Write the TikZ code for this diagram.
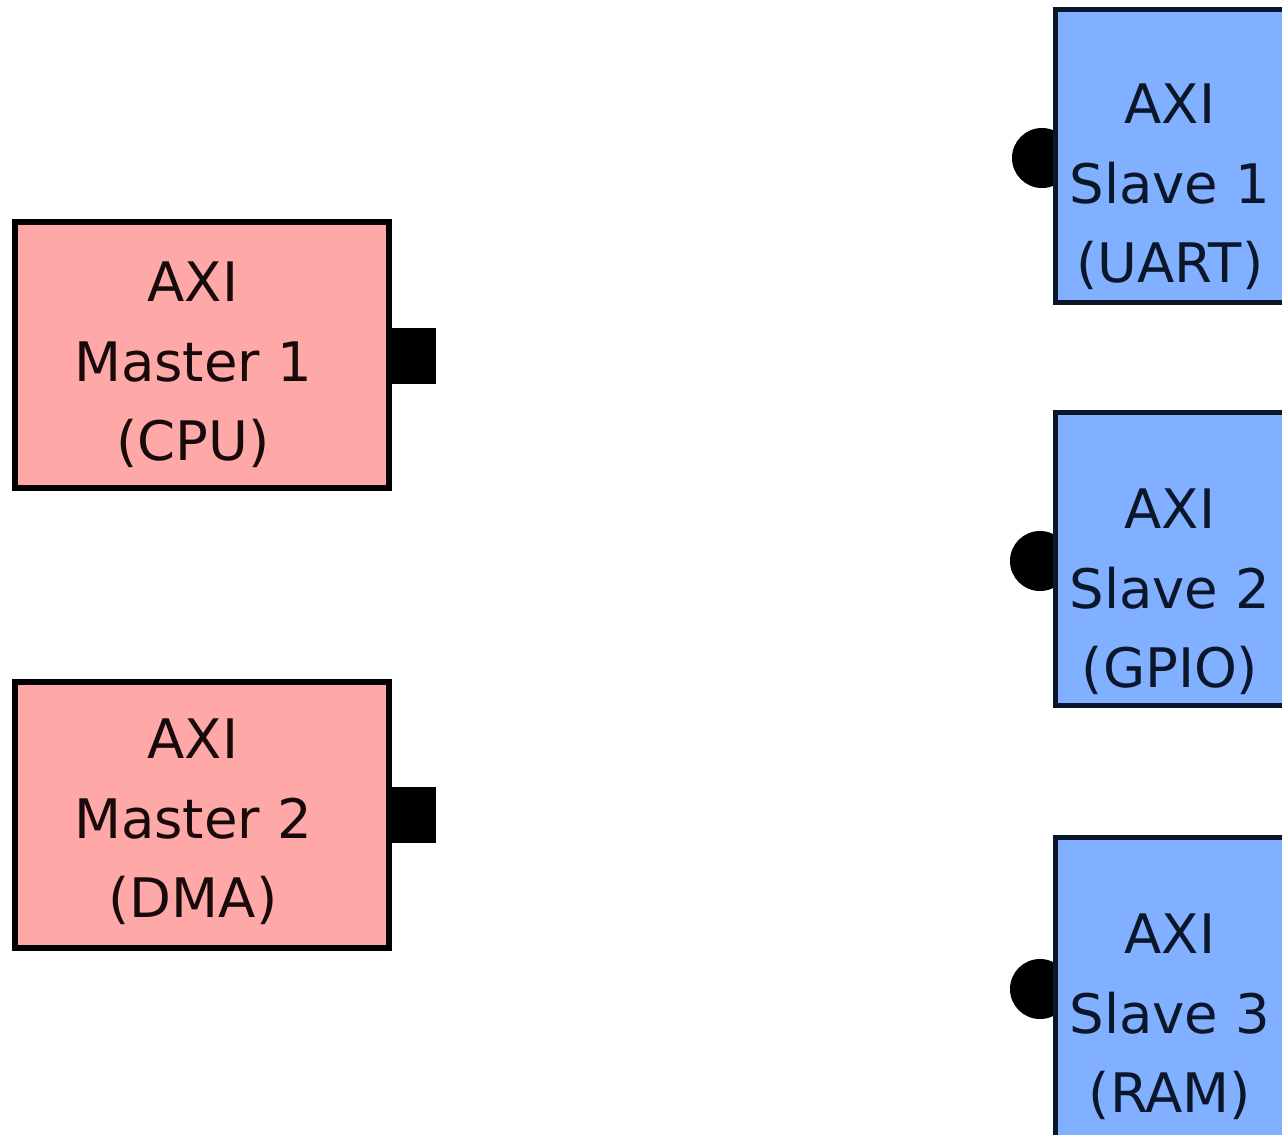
\documentclass[tikz,border=0pt]{standalone}
\usepackage{fontspec}
\setmainfont{DejaVu Sans}
\usetikzlibrary{positioning}
\newcommand{\pxsize}{0.02cm}
\definecolor{masterpink}{RGB}{255,168,168}
\definecolor{slaveblue}{RGB}{128,176,255}
\definecolor{slaveline}{RGB}{12,22,42}
\definecolor{mastertext}{RGB}{24,10,10}

\begin{document}
\begin{tikzpicture}
\useasboundingbox (0,0) rectangle (1282*\pxsize,-1134*\pxsize);
\clip (0,0) rectangle (1282*\pxsize,-1134*\pxsize);
\tikzstyle{masterbox}=[draw=black,
			fill=masterpink,
			line width=6*\pxsize,
			minimum width=374*\pxsize,
			minimum height=266*\pxsize,
			inner sep=0pt
			]
\tikzstyle{slavebox}=[draw=slaveline,
			fill=slaveblue,
			line width=5*\pxsize,
			minimum width=235*\pxsize,
			minimum height=293*\pxsize,
			inner sep=0pt
			]
\tikzstyle{masterport}=[fill=black,
			minimum width=44*\pxsize,
			minimum height=56*\pxsize,
			inner sep=0pt,
			anchor=west
			]
\tikzstyle{slaveport}=[circle,
			fill=black,
			minimum size=60*\pxsize,
			inner sep=0pt
			]
\tikzstyle{boxtext}=[align=center,
			anchor=north,
			inner sep=0pt,
			font=\fontsize{31}{45.5}\selectfont
			]

% slave ports sit behind the slave boxes
\node[slaveport] (s1port) at (1042*\pxsize,-158*\pxsize) {};
\node[slaveport] (s2port) at (1040*\pxsize,-561*\pxsize) {};
\node[slaveport] (s3port) at (1040*\pxsize,-989*\pxsize) {};

\node[slavebox] (s1) at (1172.5*\pxsize,-156*\pxsize) {};
\node[slavebox] (s2) at (1172.5*\pxsize,-559*\pxsize) {};
\node[slavebox, minimum height=313*\pxsize] (s3) at (1172.5*\pxsize,-994*\pxsize) {};

\node[masterbox] (m1) at (202*\pxsize,-355*\pxsize) {};
\node[masterbox] (m2) at (202*\pxsize,-815*\pxsize) {};

\node[masterport] (m1port) at ([yshift=-1*\pxsize]m1.east) {};
\node[masterport] (m2port) at (m2.east) {};

% labels
\node[boxtext, text=mastertext] (m1text) at (193*\pxsize,-261*\pxsize) {AXI\\Master 1\\(CPU)};
\node[boxtext, text=mastertext] (m2text) at (193*\pxsize,-718*\pxsize) {AXI\\Master 2\\(DMA)};

\node[boxtext, text=slaveline] (s1text) at (1170*\pxsize,-83*\pxsize) {AXI\\Slave 1\\(UART)};
\node[boxtext, text=slaveline] (s2text) at (1170*\pxsize,-488*\pxsize) {AXI\\Slave 2\\(GPIO)};
\node[boxtext, text=slaveline] (s3text) at (1170*\pxsize,-913*\pxsize) {AXI\\Slave 3\\(RAM)};

\end{tikzpicture}
\end{document}
